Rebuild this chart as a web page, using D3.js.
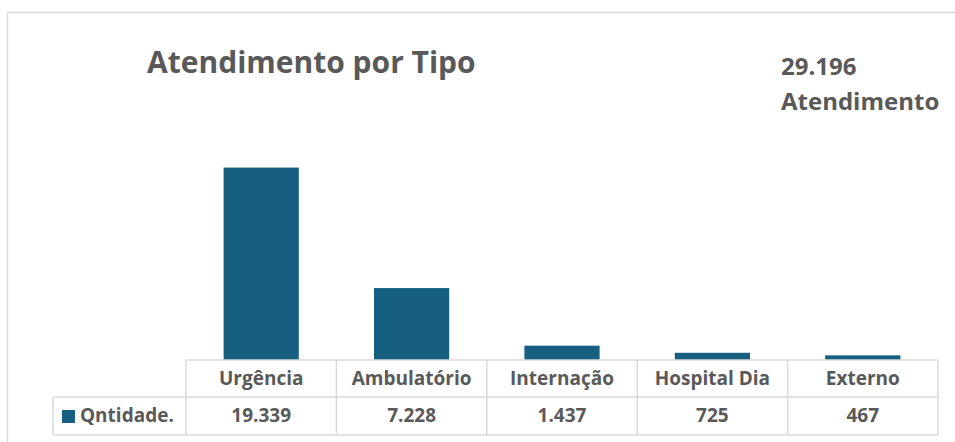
<!DOCTYPE html>
<html>
<head>
<meta charset="utf-8">
<script src="https://cdn.jsdelivr.net/npm/d3@7"></script>
<style>
  body { margin: 0; background: #fff; }
  svg text { font-family: "Open Sans", "Noto Sans", sans-serif; font-weight: bold; fill: #595959; }
</style>
</head>
<body>
<svg id="chart" width="955" height="442"></svg>
<script>
var categories = ["Urgência", "Ambulatório", "Internação", "Hospital Dia", "Externo"];
var values = [19339, 7228, 1437, 725, 467];
var seriesName = "Qntidade.";
var totalLabel = "29.196";
var totalCaption = "Atendimento";
var title = "Atendimento por Tipo";

var fmt = d3.formatLocale({decimal: ",", thousands: ".", grouping: [3], currency: ["R$", ""]}).format(",d");

var svg = d3.select("svg#chart"),
    margin = {top: 161, right: 17, bottom: 82, left: 186},
    width = +svg.attr("width") - margin.left - margin.right,
    height = +svg.attr("height") - margin.top - margin.bottom,
    g = svg.append("g").attr("transform", "translate(" + margin.left + "," + margin.top + ")");

var barColor = "#175f80",
    gridColor = "#d9d9d9";

// outer chart frame
svg.append("rect")
    .attr("x", 7.5).attr("y", 12.5)
    .attr("width", 960).attr("height", 440)
    .attr("fill", "none")
    .attr("stroke", gridColor)
    .attr("stroke-width", 1.5);

svg.append("text")
    .attr("x", 147).attr("y", 73)
    .style("font-size", "30px")
    .text(title);

svg.append("text")
    .attr("x", 781).attr("y", 75)
    .style("font-size", "24px")
    .text(totalLabel);

svg.append("text")
    .attr("x", 781).attr("y", 110)
    .style("font-size", "24px")
    .text(totalCaption);

var x = d3.scaleBand()
    .domain(categories)
    .range([0, width])
    .paddingInner(0)
    .paddingOuter(0);

var y = d3.scaleLinear()
    .domain([0, 20000])
    .range([height, 0]);

g.selectAll(".bar")
  .data(values)
  .enter().append("rect")
    .attr("class", "bar")
    .attr("x", function(d, i) { return x(categories[i]) + x.bandwidth() / 4; })
    .attr("y", function(d) { return y(d); })
    .attr("width", x.bandwidth() / 2)
    .attr("height", function(d) { return height - y(d); })
    .attr("fill", barColor);

// data table under the plot
var rowH1 = 37, rowH2 = 38;
var table = g.append("g").attr("transform", "translate(0," + height + ")");
var legendLeft = 53 - margin.left;

table.append("line")
    .attr("x1", 0).attr("x2", width).attr("y1", 0).attr("y2", 0);
table.append("line")
    .attr("x1", legendLeft).attr("x2", width).attr("y1", rowH1).attr("y2", rowH1);
table.append("line")
    .attr("x1", legendLeft).attr("x2", width).attr("y1", rowH1 + rowH2).attr("y2", rowH1 + rowH2);
table.append("line")
    .attr("x1", legendLeft).attr("x2", legendLeft).attr("y1", rowH1).attr("y2", rowH1 + rowH2);

table.selectAll(".vline")
  .data(categories.concat(["end"]))
  .enter().append("line")
    .attr("class", "vline")
    .attr("x1", function(d, i) { return i < categories.length ? x(d) : width; })
    .attr("x2", function(d, i) { return i < categories.length ? x(d) : width; })
    .attr("y1", 0)
    .attr("y2", rowH1 + rowH2);

table.selectAll("line")
    .attr("stroke", gridColor)
    .attr("stroke-width", 1.5);

table.selectAll(".cat")
  .data(categories)
  .enter().append("text")
    .attr("class", "cat")
    .attr("x", function(d) { return x(d) + x.bandwidth() / 2; })
    .attr("y", 25)
    .attr("text-anchor", "middle")
    .style("font-size", "19px")
    .text(function(d) { return d; });

table.selectAll(".val")
  .data(values)
  .enter().append("text")
    .attr("class", "val")
    .attr("x", function(d, i) { return x(categories[i]) + x.bandwidth() / 2; })
    .attr("y", 62)
    .attr("text-anchor", "middle")
    .style("font-size", "19px")
    .text(function(d) { return fmt(d); });

table.append("rect")
    .attr("x", 62 - margin.left).attr("y", rowH1 + 13)
    .attr("width", 13).attr("height", 13)
    .attr("fill", barColor);

table.append("text")
    .attr("x", 80 - margin.left).attr("y", 62)
    .style("font-size", "19px")
    .text(seriesName);
</script>
</body>
</html>
